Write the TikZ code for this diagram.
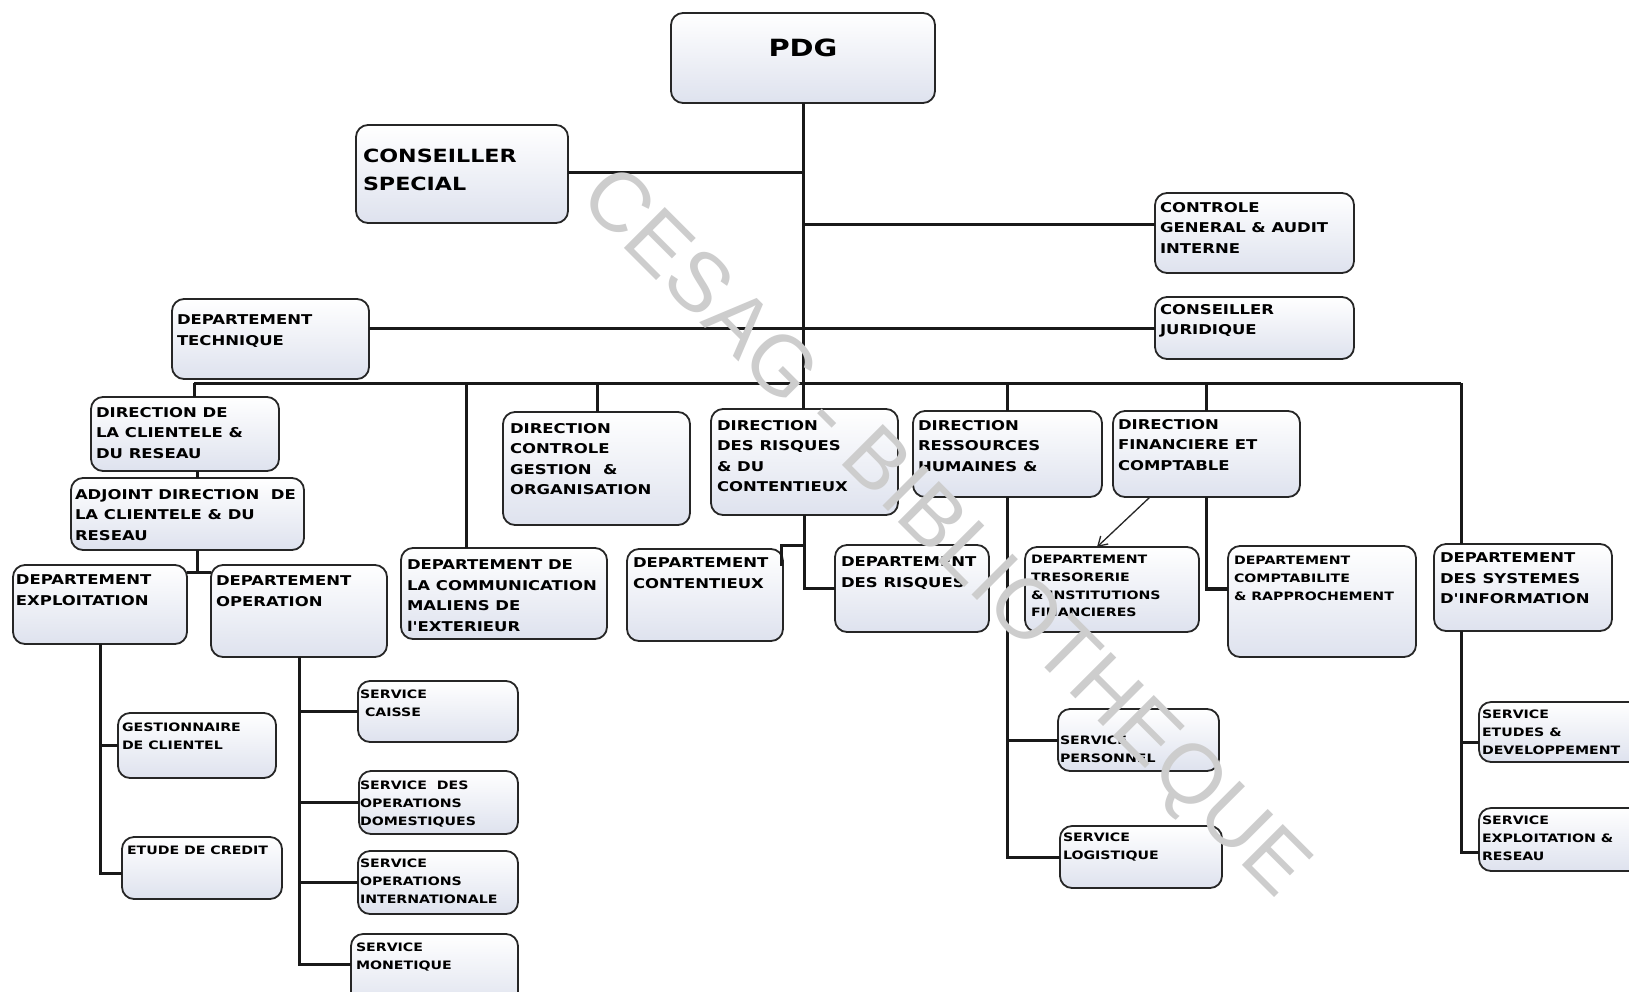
\documentclass[tikz,border=0pt]{standalone}
\usepackage{fontspec}
\setmainfont{DejaVu Sans}
\newfontfamily\orgfont{DejaVu Sans}[FakeStretch=1.22]
\newfontfamily\wmfont{Liberation Sans}
\usetikzlibrary{arrows.meta}
\definecolor{boxfill}{RGB}{222,226,238}
\definecolor{wmgray}{RGB}{205,205,205}
\tikzset{
  obox/.style={draw=black!85, line width=1.8pt, rounded corners=12pt, top color=white, bottom color=boxfill, inner sep=0pt, outer sep=0pt, anchor=north west},
  otext/.style={inner sep=0pt, outer sep=0pt, align=left, text=black, anchor=north west},
  link/.style={line width=3pt, draw=black!90},
  arr/.style={line width=1.3pt, draw=black!85, -{Straight Barb[length=9pt,width=11pt,line width=1.3pt]}},
  fpdg/.style={font=\orgfont\bfseries\fontsize{23.7}{28}\selectfont},
  fcs/.style={font=\orgfont\bfseries\fontsize{18.2}{28}\selectfont},
  fn/.style={font=\orgfont\bfseries\fontsize{13.5}{20.5}\selectfont},
  fs/.style={font=\orgfont\bfseries\fontsize{11.6}{17.8}\selectfont},
  wmark/.style={font=\wmfont\fontsize{84}{84}\selectfont, text=wmgray, inner sep=0pt}
}
\newcommand\mkbox[5]{\node[obox, minimum width={#4pt-#2pt}, minimum height={#5pt-#3pt}] (#1) at (#2,#3) {};}
\newcommand\mktxt[5]{\node[otext, #4] (#1) at (#2,#3) {#5};}
\begin{document}
\begin{tikzpicture}[x=1pt, y=-1pt]
\clip (0,0) rectangle (1629,991);
\fill[white] (0,0) rectangle (1629,991);
% boxes
\mkbox{pdg}{671}{13}{935}{103}
\mkbox{cs}{356}{125}{568}{223}
\mkbox{cgai}{1155}{193}{1354}{273}
\mkbox{cj}{1155}{297}{1354}{359}
\mkbox{dt}{172}{299}{369}{379}
\mkbox{dcr}{91}{397}{279}{471}
\mkbox{adj}{71}{478}{304}{550}
\mkbox{dex}{13}{565}{187}{644}
\mkbox{dop}{211}{565}{387}{657}
\mkbox{comm}{401}{548}{607}{639}
\mkbox{dcgo}{503}{412}{690}{525}
\mkbox{drc}{711}{409}{898}{515}
\mkbox{dcont}{627}{549}{783}{641}
\mkbox{drisk}{835}{545}{989}{632}
\mkbox{drh}{913}{411}{1102}{497}
\mkbox{dfc}{1113}{411}{1300}{497}
\mkbox{tres}{1025}{547}{1199}{632}
\mkbox{compt}{1228}{546}{1416}{657}
\mkbox{dsi}{1434}{544}{1612}{631}
\mkbox{gest}{118}{713}{276}{778}
\mkbox{edc}{122}{837}{282}{899}
\mkbox{caisse}{358}{681}{518}{742}
\mkbox{sdom}{359}{771}{518}{834}
\mkbox{soi}{358}{851}{518}{914}
\mkbox{monet}{351}{934}{518}{1010}
\mkbox{pers}{1058}{709}{1219}{771}
\mkbox{logi}{1060}{826}{1222}{888}
\mkbox{etud}{1479}{702}{1665}{762}
\mkbox{expl}{1479}{808}{1665}{871}
% connectors
\coordinate (busL) at (194,383);
\coordinate (busR) at (1461,383);
\coordinate (d2) at (466,383);
\coordinate (d3) at (597,383);
\coordinate (j1) at (197,572);
\draw[link] (busL) -- (busR);
\draw[link] (pdg.south) -- (pdg.south |- drc.north);
\draw[link] (cs.east |- 0,172) -- (pdg.south |- 0,172);
\draw[link] (pdg.south |- 0,224) -- (cgai.west |- 0,224);
\draw[link] (dt.east |- cj.west) -- (cj.west);
\draw[link] (busL) -- (busL |- dcr.north);
\draw[link] (d2) -- (d2 |- comm.north);
\draw[link] (d3) -- (d3 |- dcgo.north);
\draw[link] (drh.north |- busL) -- (drh.north);
\draw[link] (dfc.north |- busL) -- (dfc.north);
\draw[link] (busR) -- (busR |- dsi.north);
\draw[link] (j1 |- dcr.south) -- (j1 |- adj.north);
\draw[link] (j1 |- adj.south) -- (j1);
\draw[link] (dex.east |- j1) -- (dop.west |- j1);
\draw[link] (dex.south) -- (dex.south |- 0,873) -- (edc.west |- 0,873);
\draw[link] (dex.south |- gest.west) -- (gest.west);
\draw[link] (dop.south) -- (dop.south |- 0,964) -- (monet.west |- 0,964);
\draw[link] (dop.south |- caisse.west) -- (caisse.west);
\draw[link] (dop.south |- sdom.west) -- (sdom.west);
\draw[link] (dop.south |- soi.west) -- (soi.west);
\draw[link] (drc.south) -- (drc.south |- drisk.west) -- (drisk.west);
\draw[link] (drc.south |- 0,545) -| ([xshift=-2pt]dcont.north east |- 0,566);
\draw[link] (drh.south) -- (drh.south |- logi.west) -- (logi.west);
\draw[link] (drh.south |- pers.west) -- (pers.west);
\draw[link, line width=3.8pt] (dfc.south) -- (dfc.south |- 0,589) -- (compt.west |- 0,589);
\draw[arr] ([xshift=37pt]dfc.south west) -- ([xshift=-15pt]tres.north);
\draw[link] (busR |- dsi.south) -- (busR |- 0,852) -- (expl.west |- 0,852);
\draw[link] (busR |- 0,742) -- (etud.west |- 0,742);
% texts
\mktxt{pdg-t}{803}{39}{fpdg, anchor=north}{PDG}
\mktxt{cs-t}{363}{149}{fcs}{CONSEILLER\\SPECIAL}
\mktxt{cgai-t}{1160}{202}{fn}{CONTROLE\\GENERAL \& AUDIT\\INTERNE}
\mktxt{cj-t}{1160}{304}{fn}{CONSEILLER\\JURIDIQUE}
\mktxt{dt-t}{177}{315}{fn}{DEPARTEMENT\\TECHNIQUE}
\mktxt{dcr-t}{96}{407}{fn}{DIRECTION DE\\LA CLIENTELE \&\\DU RESEAU}
\mktxt{adj-t}{75}{489}{fn}{ADJOINT DIRECTION\ \ DE\\LA CLIENTELE \& DU\\RESEAU}
\mktxt{dex-t}{16}{575}{fn}{DEPARTEMENT\\EXPLOITATION}
\mktxt{dop-t}{216}{576}{fn}{DEPARTEMENT\\OPERATION}
\mktxt{comm-t}{407}{560}{fn}{DEPARTEMENT DE\\LA COMMUNICATION\\MALIENS DE\\l'EXTERIEUR}
\mktxt{dcgo-t}{510}{423}{fn}{DIRECTION\\CONTROLE\\GESTION\ \ \&\\ORGANISATION}
\mktxt{drc-t}{717}{420}{fn}{DIRECTION\\DES RISQUES\\\& DU\\CONTENTIEUX}
\mktxt{dcont-t}{633}{558}{fn}{DEPARTEMENT\\CONTENTIEUX}
\mktxt{drisk-t}{841}{557}{fn}{DEPARTEMENT\\DES RISQUES}
\mktxt{drh-t}{918}{420}{fn}{DIRECTION\\RESSOURCES\\HUMAINES \&}
\mktxt{dfc-t}{1118}{419}{fn}{DIRECTION\\FINANCIERE ET\\COMPTABLE}
\mktxt{tres-t}{1031}{555}{fs}{DEPARTEMENT\\TRESORERIE\\\& INSTITUTIONS\\FINANCIERES}
\mktxt{compt-t}{1234}{556}{fs}{DEPARTEMENT\\COMPTABILITE\\\& RAPPROCHEMENT}
\mktxt{dsi-t}{1440}{553}{fn}{DEPARTEMENT\\DES SYSTEMES\\D'INFORMATION}
\mktxt{gest-t}{122}{723}{fs}{GESTIONNAIRE\\DE CLIENTEL}
\mktxt{edc-t}{127}{846}{fs}{ETUDE DE CREDIT}
\mktxt{caisse-t}{360}{690}{fs}{SERVICE\\\hspace*{5pt}CAISSE}
\mktxt{sdom-t}{360}{781}{fs}{SERVICE\ \ DES\\OPERATIONS\\DOMESTIQUES}
\mktxt{soi-t}{360}{859}{fs}{SERVICE\\OPERATIONS\\INTERNATIONALE}
\mktxt{monet-t}{356}{943}{fs}{SERVICE\\MONETIQUE}
\mktxt{pers-t}{1060}{736}{fs}{SERVICE\\PERSONNEL}
\mktxt{logi-t}{1063}{833}{fs}{SERVICE\\LOGISTIQUE}
\mktxt{etud-t}{1482}{710}{fs}{SERVICE\\ETUDES \&\\DEVELOPPEMENT}
\mktxt{expl-t}{1482}{816}{fs}{SERVICE\\EXPLOITATION \&\\RESEAU}
% watermark
\node[wmark, rotate=-45] (wm) at (942,535) {CESAG - BIBLIOTHEQUE};
\end{tikzpicture}
\end{document}
